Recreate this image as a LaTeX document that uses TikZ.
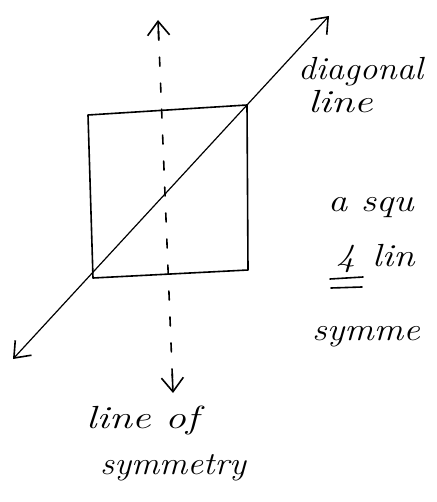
\documentclass[tikz,border=0pt]{standalone}
\usetikzlibrary{arrows.meta,calc}
\begin{document}
\begin{tikzpicture}[x=1pt,y=-1pt,
  ink/.style={line width=1.6pt,line cap=round,line join=round,black},
  barb/.style={-{Straight Barb[length=14pt,width=22pt,line width=1.6pt]}},
  dashline/.style={ink,dash pattern=on 9pt off 17pt},
  hand/.style={font=\fontsize{32}{36}\selectfont\itshape,inner sep=0pt,anchor=base west}]
\useasboundingbox (0,0) rectangle (436,502);
% square corners
\coordinate (tl) at (88,115);
\coordinate (tr) at (247,105);
\coordinate (br) at (248,270);
\coordinate (bl) at (93,278);
\draw[ink] (tl) -- (tr) -- (br) -- (bl) -- cycle;
% diagonal line
\coordinate (dtop) at (329,16);
\coordinate (dbot) at (13,359);
\draw[ink,line width=1.2pt,{Straight Barb[length=14pt,width=22pt,line width=1.6pt]}-{Straight Barb[length=14pt,width=22pt,line width=1.6pt]}] (dbot) -- (dtop);
% line of symmetry
\coordinate (vtop) at (158,20);
\coordinate (vbot) at (173,393);
\draw[dashline] ($(vtop)!0.03!(vbot)$) -- ($(vtop)!0.97!(vbot)$);
\draw[ink,barb] ($(vtop)!0.05!(vbot)$) -- (vtop);
\draw[ink,barb] ($(vbot)!0.05!(vtop)$) -- (vbot);
% labels
\node[hand] (dl1) at (298,80) {\scalebox{1.1}[1]{diagonal}};
\node[hand] (dl2) at (308,113) {\scalebox{1.3}[1]{line}};
\node[hand] (sq1) at (328,212) {\scalebox{1.2}[1]{a squ}};
\node[hand] (sq2a) at (336,266) {\scalebox{1.2}[1]{4}};
\node[hand] (sq2b) at (372,266) {\scalebox{1.2}[1]{lin}};
\coordinate (u1a) at (330,279);
\coordinate (u1b) at (363,277);
\coordinate (u2a) at (331,288);
\coordinate (u2b) at (362,287);
\draw[ink] (u1a) -- (u1b);
\draw[ink] (u2a) -- (u2b);
\node[hand] (sq3) at (312,340) {\scalebox{1.15}[1]{symme}};
\node[hand] (ls1) at (86,428) {\scalebox{1.3}[1]{line of}};
\node[hand] (ls2) at (100,474) {\scalebox{1.1}[1]{symmetry}};
\end{tikzpicture}
\end{document}
